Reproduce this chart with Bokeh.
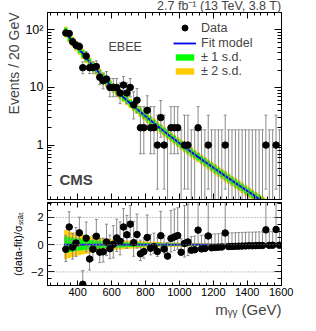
import math
from bokeh.plotting import figure
from bokeh.layouts import column
from bokeh.models import (Label, FixedTicker, LogAxis, LinearAxis, Title,
                          CustomJSTickFormatter, Legend, LegendItem, Span)
from bokeh.embed import file_html
from bokeh.resources import INLINE

FONT = "Liberation Sans"

# ---------------- data ----------------
mass = [330, 350, 370, 390, 410, 430, 450, 470, 490, 510, 530, 550, 570, 590, 610, 630,
        650, 670, 690, 710, 730, 750, 770, 790, 810, 830, 850, 870, 890, 910, 930, 950,
        970, 990, 1010, 1030, 1050, 1070, 1090, 1110, 1130, 1150, 1170, 1190, 1210, 1230, 1250, 1270,
        1290, 1310, 1330, 1350, 1370, 1390, 1410, 1430, 1450, 1470, 1490, 1510, 1530, 1550, 1570, 1590]
counts = [88, 86, 62, 54, 51, 22, 35, 22, 22, 23, 15, 13, 14, 10, 10, 10,
          8, 11, 8, 10, 5, 6, 2, 2, 4, 2, 2, 1, 3, 1, 0, 2,
          2, 2, 0, 1, 1, 0, 0, 2, 0, 0, 1, 0, 0, 0, 0, 1,
          0, 0, 0, 0, 0, 0, 0, 0, 0, 0, 0, 1, 0, 0, 1, 0]
fit = [91.5, 74.0, 63.1, 53.1, 44.8, 38.8, 32.2, 27.5, 23.5, 20.2, 17.4, 15.0, 13.0, 11.3, 9.91, 8.69,
       7.64, 6.74, 5.97, 5.31, 4.73, 4.21, 3.76, 3.35, 2.99, 2.68, 2.40, 2.15, 1.93, 1.73, 1.55, 1.40,
       1.26, 1.136, 1.025, 0.926, 0.838, 0.758, 0.687, 0.623, 0.566, 0.515, 0.468, 0.425, 0.387, 0.352, 0.321, 0.292,
       0.266, 0.2424, 0.2211, 0.2016, 0.1839, 0.1679, 0.1532, 0.1399, 0.1278, 0.1168, 0.1068, 0.0976, 0.0893, 0.0818, 0.0748, 0.0685]
pull = [-0.34, 1.30, -0.18, 0.12, 0.87, -2.91, 0.48, -1.05, -0.33, 0.62, -0.55, -0.52, 0.20, -0.30, 0.03, 0.50,
        0.25, 1.30, 0.73, 1.51, 0.15, 0.75, -0.67, -0.51, 0.53, -0.26, -0.15, -0.50, 0.66, -0.32, -0.84, 0.46,
        0.57, 0.67, -0.56, 0.09, 0.20, -0.41, -0.37, 1.07, -0.31, -0.28, 0.64, -0.23, -0.21, -0.19, -0.17, 0.86,
        -0.14, -0.13, -0.12, -0.11, -0.10, -0.09, -0.08, -0.08, -0.07, -0.06, -0.06, 1.09, -0.05, -0.04, 1.12, -0.04]
# relative fit uncertainty (1 s.d. and 2 s.d.)
rel1 = [0.062, 0.063, 0.063, 0.064, 0.064, 0.065, 0.066, 0.066, 0.067, 0.067, 0.068, 0.069, 0.069, 0.070, 0.070, 0.071,
        0.072, 0.072, 0.073, 0.073, 0.074, 0.075, 0.075, 0.076, 0.076, 0.077, 0.078, 0.078, 0.079, 0.079, 0.080, 0.081,
        0.081, 0.082, 0.082, 0.083, 0.084, 0.084, 0.085, 0.085, 0.086, 0.087, 0.087, 0.088, 0.088, 0.089, 0.090, 0.090,
        0.091, 0.091, 0.092, 0.093, 0.093, 0.094, 0.094, 0.095, 0.096, 0.096, 0.097, 0.097, 0.098, 0.099, 0.099, 0.100]
rel2 = [0.112, 0.113, 0.114, 0.115, 0.116, 0.117, 0.118, 0.119, 0.120, 0.121, 0.122, 0.122, 0.123, 0.124, 0.125, 0.126,
        0.127, 0.128, 0.129, 0.130, 0.131, 0.132, 0.133, 0.134, 0.135, 0.136, 0.137, 0.138, 0.139, 0.140, 0.141, 0.141,
        0.142, 0.143, 0.144, 0.145, 0.146, 0.147, 0.148, 0.149, 0.150, 0.151, 0.152, 0.153, 0.154, 0.155, 0.156, 0.157,
        0.158, 0.159, 0.160, 0.160, 0.161, 0.162, 0.163, 0.164, 0.165, 0.166, 0.167, 0.168, 0.169, 0.170, 0.171, 0.172]
bin_width = 20
x_ticks = [400, 600, 800, 1000, 1200, 1400, 1600]

# ---------------- helpers ----------------
def pois_cdf(n, mu):
    term = math.exp(-mu)
    s = term
    for k in range(1, n + 1):
        term *= mu / k
        s += term
    return s

def garwood(n, a=0.158655):
    lo, hi = float(n), n + 10.0 * math.sqrt(n + 1) + 10.0
    for _ in range(80):
        mid = 0.5 * (lo + hi)
        if pois_cdf(n, mid) > a:
            lo = mid
        else:
            hi = mid
    up = 0.5 * (lo + hi)
    if n == 0:
        return 0.0, up
    lo, hi = 0.0, float(n)
    for _ in range(80):
        mid = 0.5 * (lo + hi)
        if 1.0 - pois_cdf(n - 1, mid) < a:
            lo = mid
        else:
            hi = mid
    return 0.5 * (lo + hi), up

n = len(mass)
left = [m - bin_width / 2 for m in mass]
right = [m + bin_width / 2 for m in mass]
edge_hi, edge_lo = [], []
for i in range(n):
    prev = fit[i - 1] if i > 0 else fit[0] * fit[0] / fit[1]
    nxt = fit[i + 1] if i < n - 1 else fit[-1] * fit[-1] / fit[-2]
    edge_hi.append(math.sqrt(prev * fit[i]))
    edge_lo.append(math.sqrt(fit[i] * nxt))

t2 = [edge_hi[i] * (1 + rel2[i]) for i in range(n)]
b2 = [edge_lo[i] * (1 - rel2[i]) for i in range(n)]
t1 = [edge_hi[i] * (1 + rel1[i]) for i in range(n)]
b1 = [edge_lo[i] * (1 - rel1[i]) for i in range(n)]

err_lo, err_hi, pull_up, pull_dn = [], [], [], []
for c, f in zip(counts, fit):
    l, u = garwood(c)
    err_lo.append(max(l, 1e-3))
    err_hi.append(u)
    s_dn, s_up = c - l, u - c
    if c > f and s_dn > 0:
        pull_dn.append(1.0)
        pull_up.append(s_up / s_dn)
    else:
        pull_up.append(1.0)
        pull_dn.append(s_dn / s_up)

pm = [m for m, c in zip(mass, counts) if c > 0]
pc = [c for c in counts if c > 0]

GREEN = "#00ff00"
YELLOW = "#ffcc00"
BLUE = "#0000ee"
GREY = "#8a8a8a"

blank_fmt = CustomJSTickFormatter(code="return '';")

def style_axis(ax, label_size, show_labels=True, maj=7, mnr=4, standoff=4):
    ax.major_tick_in = maj
    ax.major_tick_out = 0
    ax.minor_tick_in = mnr
    ax.minor_tick_out = 0
    ax.axis_line_color = "black"
    ax.major_tick_line_color = "black"
    ax.minor_tick_line_color = "black"
    ax.major_label_text_font = FONT
    ax.major_label_text_color = "black"
    ax.axis_label_text_font = FONT
    ax.axis_label_text_font_style = "normal"
    ax.axis_label_text_color = "black"
    if show_labels:
        ax.major_label_text_font_size = label_size
        ax.major_label_standoff = standoff
    else:
        ax.formatter = blank_fmt
        ax.major_label_text_font_size = "1px"
        ax.major_label_text_alpha = 0
        ax.major_label_standoff = 0

# ---------------- top panel ----------------
XR = (222, 1602)
p1 = figure(frame_width=234, frame_height=187,
            min_border_left=51, min_border_right=31, min_border_top=16, min_border_bottom=1,
            x_range=XR, y_range=(0.114, 199), y_axis_type="log",
            output_backend="svg", toolbar_location=None)
p1.background_fill_color = "white"
p1.border_fill_color = "white"
p1.outline_line_color = "black"
p1.outline_line_width = 1
p1.grid.visible = False

r_y = p1.quad(left=left, right=right, top=t2, bottom=b2, fill_color=YELLOW, line_color=None)
r_g = p1.quad(left=left, right=right, top=t1, bottom=b1, fill_color=GREEN, line_color=None)
r_fit = p1.line(mass, fit, line_color=BLUE, line_width=1.8)
p1.segment(x0=mass, y0=err_lo, x1=mass, y1=err_hi, line_color=GREY, line_width=1)
p1.scatter(mass, err_hi, marker="dash", size=3, line_color=GREY, line_width=1)
p1.scatter(mass, err_lo, marker="dash", size=3, line_color=GREY, line_width=1)
r_pts = p1.scatter(pm, pc, marker="circle", size=6.5, fill_color="black", line_color="black")

yt_major = [1, 10, 100]
yt_minor = [0.2, 0.3, 0.4, 0.5, 0.6, 0.7, 0.8, 0.9, 2, 3, 4, 5, 6, 7, 8, 9,
            20, 30, 40, 50, 60, 70, 80, 90]
xt_minor = list(range(240, 1601, 40))

ylog_fmt = CustomJSTickFormatter(code="""
const t = Math.round(Math.log10(tick));
if (t == 2) return "10\u00b2";
if (t == 1) return "10";
if (t == 0) return "1";
return "";
""")
p1.yaxis.ticker = FixedTicker(ticks=yt_major, minor_ticks=yt_minor)
p1.yaxis.formatter = ylog_fmt
style_axis(p1.yaxis[0], "12.5px")
p1.xaxis.ticker = FixedTicker(ticks=x_ticks, minor_ticks=xt_minor)
style_axis(p1.xaxis[0], "1px", show_labels=False, maj=6, mnr=3)

ax_r = LogAxis(ticker=FixedTicker(ticks=yt_major, minor_ticks=yt_minor))
style_axis(ax_r, "1px", show_labels=False)
p1.add_layout(ax_r, "right")
ax_t = LinearAxis(ticker=FixedTicker(ticks=x_ticks, minor_ticks=xt_minor))
style_axis(ax_t, "1px", show_labels=False, maj=6, mnr=3)
p1.add_layout(ax_t, "above")
p1.add_layout(Title(text="2.7 fb\u207b\u00b9 (13 TeV, 3.8 T)", align="right", standoff=0,
                    text_font=FONT, text_font_size="12.5px", text_font_style="normal"), "above")
p1.add_layout(Title(text="Events / 20 GeV", align="right", standoff=2,
                    text_font=FONT, text_font_size="14px", text_font_style="normal"), "left")

# legends
legA = Legend(items=[LegendItem(label="Data", renderers=[r_pts])],
              location=(126, 164), glyph_width=23, glyph_height=15, label_height=14,
              label_standoff=5, padding=0, margin=0, spacing=0,
              background_fill_alpha=0, border_line_alpha=0,
              label_text_font=FONT, label_text_font_size="12.5px")
legB = Legend(items=[LegendItem(label="Fit model", renderers=[r_fit]),
                     LegendItem(label="\u00b1 1 s.d.", renderers=[r_g]),
                     LegendItem(label="\u00b1 2 s.d.", renderers=[r_y])],
              location=(126, 121.3), glyph_width=23, glyph_height=8, label_height=14,
              label_standoff=5, padding=0, margin=0, spacing=0,
              background_fill_alpha=0, border_line_alpha=0,
              label_text_font=FONT, label_text_font_size="12.5px")
p1.add_layout(legA)
p1.add_layout(legB)

p1.add_layout(Label(x=61, y=153, x_units="screen", y_units="screen", text="EBEE",
                    text_font=FONT, text_font_size="12.5px", text_baseline="alphabetic"))
p1.add_layout(Label(x=12, y=20, x_units="screen", y_units="screen", text="CMS",
                    text_font=FONT, text_font_size="15px", text_font_style="bold",
                    text_baseline="alphabetic"))

# ---------------- bottom panel ----------------
p2 = figure(frame_width=234, frame_height=83,
            min_border_left=51, min_border_right=31, min_border_top=2, min_border_bottom=33,
            x_range=p1.x_range, y_range=(-3, 3.1),
            output_backend="svg", toolbar_location=None)
p2.background_fill_color = "white"
p2.border_fill_color = "white"
p2.outline_line_color = "black"
p2.grid.visible = False

for lvl in (2, -2, 0):
    p2.add_layout(Span(location=lvl, dimension="width", line_color="#888888",
                       line_dash="1 2", line_width=1))
sdp2 = [rel2[i] * math.sqrt(fit[i]) for i in range(n)]
sdp1 = [rel1[i] * math.sqrt(fit[i]) for i in range(n)]
p2.quad(left=left, right=right, top=sdp2, bottom=[-v for v in sdp2], fill_color=YELLOW, line_color=None)
p2.quad(left=left, right=right, top=sdp1, bottom=[-v for v in sdp1], fill_color=GREEN, line_color=None)
p2.line([left[0], right[-1]], [0, 0], line_color=BLUE, line_width=1.8)
p_hi = [p + u for p, u in zip(pull, pull_up)]
p_lo = [p - d for p, d in zip(pull, pull_dn)]
p2.segment(x0=mass, y0=p_lo, x1=mass, y1=p_hi, line_color=GREY, line_width=1)
p2.scatter(mass, p_hi, marker="dash", size=3, line_color=GREY, line_width=1)
p2.scatter(mass, p_lo, marker="dash", size=3, line_color=GREY, line_width=1)
p2.scatter(mass, pull, marker="circle", size=6.5, fill_color="black", line_color="black")

pt_minor = [-3, -2.5, -1.5, -1, -0.5, 0.5, 1, 1.5, 2.5, 3]
p2.yaxis.ticker = FixedTicker(ticks=[-2, 0, 2], minor_ticks=pt_minor)
style_axis(p2.yaxis[0], "11px", maj=7, mnr=4)
p2.yaxis.axis_label = "(data-fit)/\u03c3\u209b\u209c\u2090\u209c"
p2.yaxis.axis_label_text_font_size = "11px"
p2.yaxis.axis_label_standoff = 4
p2.xaxis.ticker = FixedTicker(ticks=x_ticks, minor_ticks=xt_minor)
style_axis(p2.xaxis[0], "11px", maj=5, mnr=3, standoff=2)
ax_r2 = LinearAxis(ticker=FixedTicker(ticks=[-2, 0, 2], minor_ticks=pt_minor))
style_axis(ax_r2, "1px", show_labels=False)
p2.add_layout(ax_r2, "right")
ax_t2 = LinearAxis(ticker=FixedTicker(ticks=x_ticks, minor_ticks=xt_minor))
style_axis(ax_t2, "1px", show_labels=False, maj=5, mnr=3)
p2.add_layout(ax_t2, "above")
p2.add_layout(Title(text="m\u1d67\u1d67 (GeV)", align="right", standoff=0,
                    text_font=FONT, text_font_size="15px", text_font_style="normal"), "below")

layout = column(p1, p2, spacing=0, margin=(-4, 0, 0, -4))
open("out.html", "w").write(file_html(layout, INLINE))
